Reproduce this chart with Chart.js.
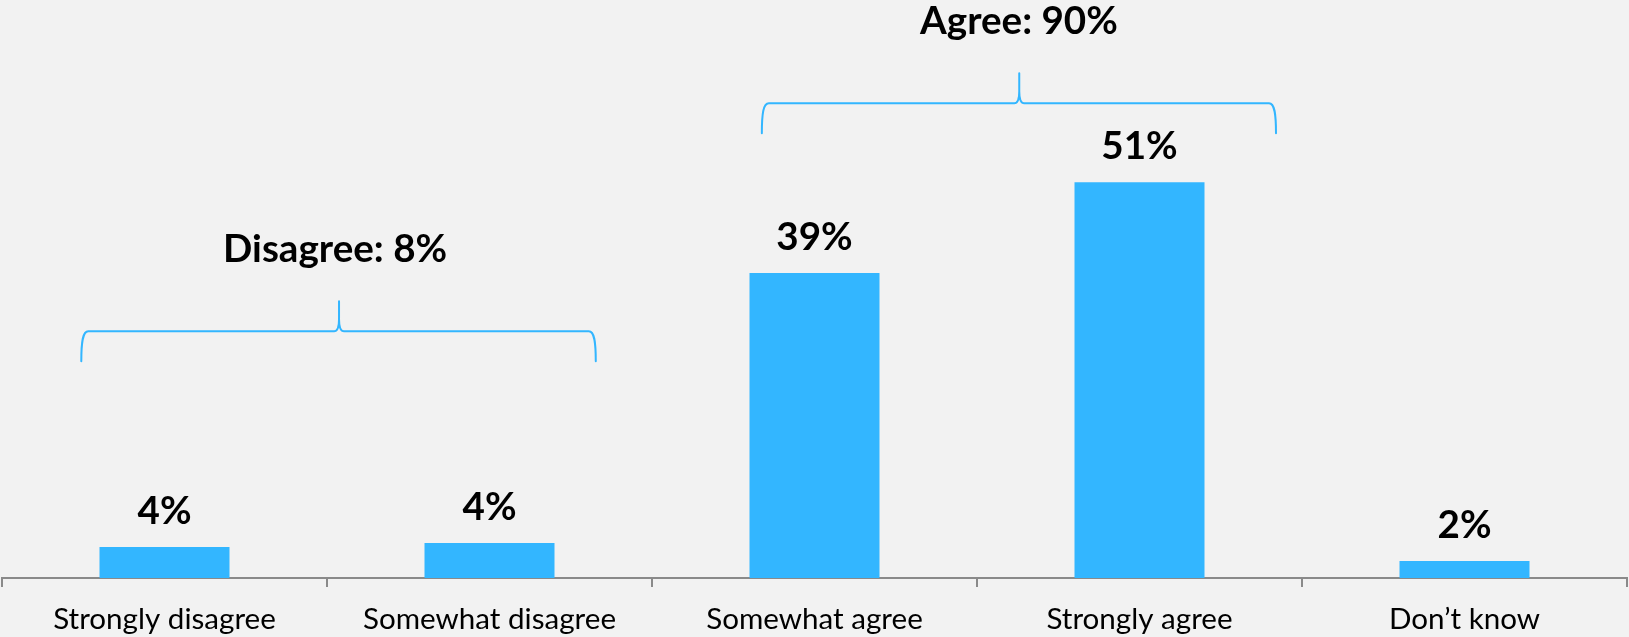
<!DOCTYPE html>
<html>
<head>
<meta charset="utf-8">
<script src="https://cdn.jsdelivr.net/npm/chart.js@4/dist/chart.umd.min.js"></script>
<style>
  html, body { margin: 0; padding: 0; background: #f2f2f2; }
  #wrap { width: 1629px; height: 637px; position: relative; }
  canvas { display: block; }
</style>
</head>
<body>
<div id="wrap"><canvas id="c"></canvas></div>
<script>
// ---- data ----
const categories = ['Strongly disagree', 'Somewhat disagree', 'Somewhat agree', 'Strongly agree', 'Don\u2019t know'];
const shares = [4.0, 4.5, 39.3, 51, 2.2];
const shareLabels = ['4%', '4%', '39%', '51%', '2%'];
const groupNames = ['Disagree: 8%', 'Agree: 90%'];
const groupMembers = [[0, 1], [2, 3]];

// ---- font sizing (fit Lato to the reference text widths) ----
const FAMILY = 'Lato, Carlito, Calibri, "Noto Sans", sans-serif';
function fitSize(text, weight, target) {
  const c = document.createElement('canvas').getContext('2d');
  c.font = weight + ' 100px ' + FAMILY;
  return Math.round(100 * target / c.measureText(text).width * 10) / 10;
}
const catSize = fitSize('Strongly disagree', 'normal', 223);
const boldSize = fitSize('Agree: 90%', 'bold', 198);

const BLUE = '#33b6ff';
const AXIS = '#8a8a8a';

const valueLabelPlugin = {
  id: 'valueLabels',
  afterDatasetsDraw(chart) {
    const ctx = chart.ctx;
    const meta = chart.getDatasetMeta(0);
    ctx.save();
    ctx.fillStyle = '#000';
    ctx.font = 'bold ' + boldSize + 'px ' + FAMILY;
    ctx.textAlign = 'center';
    ctx.textBaseline = 'alphabetic';
    meta.data.forEach((bar, i) => {
      ctx.fillText(shareLabels[i], bar.x, bar.y - 23);
    });
    ctx.restore();
  }
};

const bracePlugin = {
  id: 'braces',
  afterDatasetsDraw(chart, args, opts) {
    const { ctx, scales: { x, y } } = chart;
    opts.items.forEach((b, gi) => {
      const L = x.getPixelForValue(b.from);
      const R = x.getPixelForValue(b.to);
      const T = x.getPixelForValue(b.tip);
      const H = y.getPixelForValue(b.level);
      const up = opts.rise, down = opts.drop;
      ctx.save();
      ctx.strokeStyle = BLUE;
      ctx.lineWidth = 2;
      ctx.lineCap = 'round';
      ctx.beginPath();
      ctx.moveTo(L, H + down);
      ctx.bezierCurveTo(L, H + 10, L + 1.5, H, L + 7, H);
      ctx.lineTo(T - 5, H);
      ctx.bezierCurveTo(T - 1.5, H, T, H - 4, T, H - 12);
      ctx.lineTo(T, H - up);
      ctx.moveTo(T, H - 12);
      ctx.bezierCurveTo(T, H - 4, T + 1.5, H, T + 5, H);
      ctx.lineTo(R - 7, H);
      ctx.bezierCurveTo(R - 1.5, H, R, H + 10, R, H + down);
      ctx.stroke();
      ctx.fillStyle = '#000';
      ctx.font = 'bold ' + boldSize + 'px ' + FAMILY;
      ctx.textAlign = 'center';
      ctx.textBaseline = 'alphabetic';
      ctx.fillText(groupNames[gi], x.getPixelForValue(b.text), H - up - 39);
      ctx.restore();
    });
  }
};

Chart.defaults.font.family = FAMILY;

new Chart(document.getElementById('c'), {
  type: 'bar',
  data: {
    labels: categories,
    datasets: [{
      data: shares,
      backgroundColor: BLUE,
      borderWidth: 0,
      barPercentage: 0.4,
      categoryPercentage: 1.0
    }]
  },
  options: {
    responsive: true,
    maintainAspectRatio: false,
    devicePixelRatio: 1,
    animation: false,
    layout: { padding: { left: 2, right: 2, top: 0, bottom: 0 } },
    plugins: {
      legend: { display: false },
      tooltip: { enabled: false },
      braces: {
        rise: 30,
        drop: 30,
        items: [
          { from: -0.256, to: 1.327, tip: 0.537, text: 0.525, level: 31.8 },
          { from: 1.838, to: 3.420, tip: 2.630, text: 2.629, level: 61.2 }
        ]
      }
    },
    scales: {
      x: {
        afterFit(scale) { scale.height = 59; },
        grid: {
          offset: true,
          drawOnChartArea: false,
          drawTicks: true,
          tickLength: 9,
          color: AXIS,
          lineWidth: 2
        },
        border: { display: true, color: AXIS, width: 2 },
        ticks: {
          color: '#000',
          font: { size: catSize, lineHeight: 1.2 },
          padding: 15,
          maxRotation: 0,
          autoSkip: false
        }
      },
      y: { display: false, min: 0, max: 74.5 }
    }
  },
  plugins: [valueLabelPlugin, bracePlugin]
});
</script>
</body>
</html>
